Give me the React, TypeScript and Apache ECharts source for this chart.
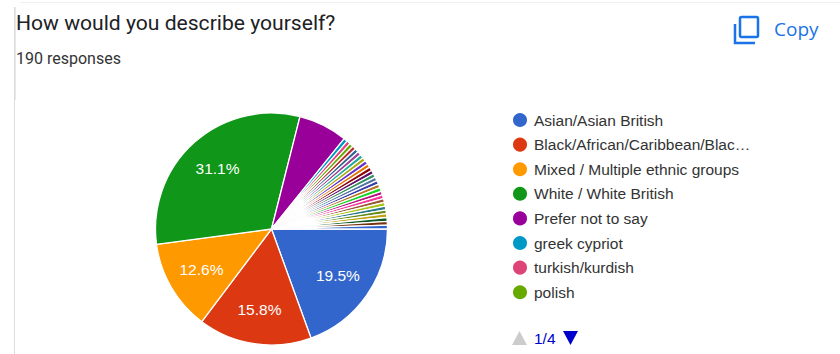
import React, { useEffect, useRef } from "react";
import * as echarts from "echarts";

const titleText = "How would you describe yourself?";
const subtitleText = "190 responses";
const copyText = "Copy";
const pagerText = "1/4";
const namedCategories = [
  "Asian/Asian British",
  "Black/African/Caribbean/Black British",
  "Mixed / Multiple ethnic groups",
  "White / White British",
  "Prefer not to say",
  "greek cypriot",
  "turkish/kurdish",
  "polish",
];
const namedCounts = [37, 30, 24, 59, 13, 1, 1, 1];
const smallCategoryCounts = [1, 1, 1, 1, 1, 1, 1, 1, 1, 1, 1, 1, 1, 1, 1, 1, 1, 1, 1, 1, 1, 1, 1, 1];
const palette = [
  "#3366cc", "#dc3912", "#ff9900", "#109618", "#990099", "#0099c6", "#dd4477", "#66aa00",
  "#b82e2e", "#316395", "#994499", "#22aa99", "#aaaa11", "#6633cc", "#e67300", "#8b0707",
  "#651067", "#329262", "#5574a6", "#3b3eac", "#b77322", "#16d620", "#b91383", "#f4359e",
  "#9c5935", "#a9c413", "#2a778d", "#668d1c", "#bea413", "#0c5922", "#743411", "#3366cc",
];
const labelledSlices = [0, 1, 2, 3];

const cx = 271.5;
const cy = 229;

export default function App() {
  const ref = useRef<HTMLDivElement>(null);
  useEffect(() => {
    const chart = echarts.init(ref.current!, null, { renderer: "svg" });
    const data = [
      ...namedCategories.map((name, i) => ({ name, value: namedCounts[i] })),
      ...smallCategoryCounts.map((value, i) => ({ name: `other ${i + 1}`, value })),
    ].map((d, i) => ({
      ...d,
      label: { show: labelledSlices.includes(i) },
    }));
    chart.setOption({
      animation: false,
      backgroundColor: "#ffffff",
      color: palette,
      legend: {
        show: true,
        orient: "vertical",
        left: 506,
        top: 106,
        itemWidth: 16,
        itemHeight: 16,
        itemGap: 6.6,
        icon: "circle",
        selectedMode: false,
        data: namedCategories,
        textStyle: {
          fontFamily: "Liberation Sans",
          fontSize: 15.5,
          color: "#333333",
          width: 218,
          overflow: "truncate",
          ellipsis: "…",
          padding: [0, 0, 0, 1],
        },
      },
      series: [
        {
          type: "pie",
          center: [cx, cy],
          radius: [0, 116],
          startAngle: 0,
          clockwise: true,
          avoidLabelOverlap: false,
          minShowLabelAngle: 0,
          data,
          itemStyle: { borderColor: "#ffffff", borderWidth: 1.3 },
          label: {
            position: "inside",
            formatter: (p: any) => `${p.percent.toFixed(1)}%`,
            color: "#ffffff",
            fontFamily: "Liberation Sans",
            fontSize: 15.5,
          },
          labelLine: { show: false },
          labelLayout: (p: any) => {
            const x = p.labelRect.x + p.labelRect.width / 2;
            const y = p.labelRect.y + p.labelRect.height / 2;
            return { dx: (x - cx) * 0.33, dy: (y - cy) * 0.33 };
          },
        },
      ],
      graphic: [
        { type: "rect", shape: { x: 14, y: 7, width: 1, height: 347 }, style: { fill: "#dddddd" } },
        { type: "rect", shape: { x: 15, y: 7, width: 1, height: 93 }, style: { fill: "#e8e8f0" } },
        { type: "rect", shape: { x: 20, y: 2, width: 820, height: 1 }, style: { fill: "#f0f0f0" } },
        {
          type: "text", x: 16, y: 12,
          style: { text: titleText, fontFamily: "Roboto", fontSize: 21.1, fill: "#202124" },
        },
        {
          type: "text", x: 16, y: 50,
          style: { text: subtitleText, fontFamily: "Roboto", fontSize: 16, fill: "#333333" },
        },
        {
          type: "rect",
          shape: { x: 740, y: 17, width: 18, height: 20, r: 1.5 },
          style: { fill: "none", stroke: "#1a73e8", lineWidth: 2.5 },
        },
        {
          type: "polyline",
          shape: { points: [[735, 24], [735, 43], [755, 43]] },
          style: { fill: "none", stroke: "#1a73e8", lineWidth: 2.5 },
        },
        {
          type: "text", x: 774, y: 19,
          style: { text: copyText, fontFamily: "Open Sans", fontSize: 19, fontWeight: 500, fill: "#1a73e8" },
        },
        {
          type: "polygon",
          shape: { points: [[512, 345], [527, 345], [519.5, 331]] },
          style: { fill: "#cccccc" },
        },
        {
          type: "text", x: 534, y: 330,
          style: { text: pagerText, fontFamily: "Liberation Sans", fontSize: 15.5, fill: "#0000cc" },
        },
        {
          type: "polygon",
          shape: { points: [[563, 331], [578, 331], [570.5, 345]] },
          style: { fill: "#0000cc" },
        },
      ],
    });
    return () => chart.dispose();
  }, []);
  return (
    <div
      ref={ref}
      style={{ position: "absolute", left: 0, top: 0, width: 840, height: 354 }}
    />
  );
}
